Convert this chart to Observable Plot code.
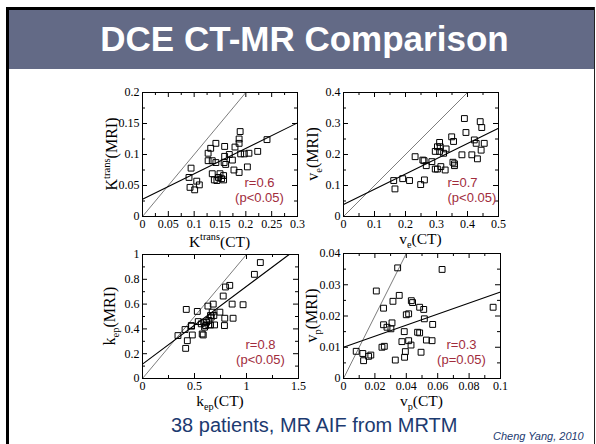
<!DOCTYPE html>
<html><head><meta charset="utf-8">
<script src="https://cdn.jsdelivr.net/npm/d3@7"></script>
<script src="https://cdn.jsdelivr.net/npm/@observablehq/plot@0.6"></script>
<style>
html,body{margin:0;padding:0;background:#fff;}
#slide{position:relative;width:596px;height:444px;overflow:hidden;background:#fff;font-family:"Liberation Sans",Arial,Helvetica,sans-serif;}
.abs{position:absolute;}
#topb{left:6px;top:7px;width:589px;height:3px;background:#000;}
#leftb{left:6px;top:7px;width:3px;height:440px;background:#000;}
#rightb{left:594px;top:7px;width:1px;height:440px;background:#222;}
#bar{left:9px;top:10px;width:585px;height:59px;background:#636a86;}
#title{left:9px;top:19px;width:591px;text-align:center;color:#fff;font-weight:bold;font-size:35px;line-height:40px;white-space:nowrap;}
#caption{left:171px;top:413px;color:#1c3a70;font-size:20px;line-height:24px;white-space:nowrap;}
#credit{left:493px;top:430px;color:#1c3a70;font-size:11px;font-style:italic;line-height:13px;white-space:nowrap;}
.panel{position:absolute;}
</style>
</head><body>
<div id="slide">
  <div class="abs" id="bar"></div>
  <div class="abs" id="topb"></div>
  <div class="abs" id="leftb"></div>
  <div class="abs" id="rightb"></div>
  <div class="abs" id="title">DCE CT-MR Comparison</div>
  <div class="abs" id="caption">38 patients, MR AIF from MRTM</div>
  <div class="abs" id="credit">Cheng Yang, 2010</div>
</div>
<script>
// ---------- data ----------
const ktransCT  = [0.094,0.090,0.092,0.101,0.105,0.110,0.127,0.127,0.132,0.135,0.142,0.142,0.135,0.139,0.144,0.147,0.150,0.153,0.157,0.157,0.159,0.159,0.158,0.161,0.168,0.174,0.177,0.179,0.187,0.189,0.187,0.187,0.190,0.197,0.206,0.203,0.223,0.241];
const ktransMRI = [0.078,0.063,0.047,0.043,0.057,0.051,0.102,0.090,0.110,0.090,0.118,0.087,0.069,0.059,0.058,0.063,0.069,0.061,0.066,0.059,0.113,0.097,0.087,0.084,0.100,0.091,0.075,0.112,0.125,0.137,0.118,0.071,0.101,0.101,0.102,0.080,0.105,0.124];
const veCT  = [0.162,0.166,0.191,0.213,0.231,0.249,0.261,0.256,0.260,0.267,0.285,0.296,0.296,0.303,0.303,0.310,0.312,0.310,0.314,0.323,0.328,0.331,0.349,0.355,0.353,0.358,0.358,0.382,0.390,0.395,0.414,0.422,0.428,0.432,0.441,0.446,0.444,0.454];
const veMRI = [0.116,0.089,0.122,0.116,0.193,0.103,0.118,0.182,0.180,0.164,0.177,0.210,0.153,0.153,0.225,0.239,0.225,0.210,0.161,0.204,0.150,0.218,0.257,0.242,0.175,0.170,0.164,0.199,0.316,0.271,0.199,0.247,0.236,0.186,0.306,0.287,0.214,0.236];
const kepCT  = [0.341,0.431,0.415,0.421,0.409,0.469,0.472,0.479,0.527,0.536,0.565,0.574,0.584,0.590,0.606,0.597,0.629,0.638,0.638,0.654,0.661,0.670,0.680,0.686,0.693,0.744,0.776,0.798,0.839,0.791,0.788,0.862,0.871,0.967,1.076,1.133,0.654,0.616];
const kepMRI = [0.346,0.305,0.243,0.557,0.395,0.427,0.422,0.351,0.541,0.459,0.441,0.359,0.351,0.454,0.427,0.414,0.584,0.468,0.432,0.432,0.495,0.535,0.600,0.508,0.432,0.535,0.665,0.738,0.751,0.486,0.427,0.600,0.486,0.595,0.840,0.935,0.508,0.454];
const vpCT  = [0.0081,0.0123,0.0128,0.0160,0.0174,0.0209,0.0245,0.0260,0.0255,0.0255,0.0277,0.0302,0.0309,0.0315,0.0330,0.0345,0.0355,0.0372,0.0387,0.0389,0.0394,0.0400,0.0415,0.0415,0.0430,0.0432,0.0440,0.0472,0.0485,0.0485,0.0494,0.0511,0.0515,0.0528,0.0564,0.0568,0.0628,0.0953];
const vpMRI = [0.0087,0.0080,0.0057,0.0071,0.0075,0.0280,0.0100,0.0103,0.0225,0.0172,0.0164,0.0159,0.0178,0.0247,0.0059,0.0354,0.0266,0.0118,0.0150,0.0068,0.0086,0.0204,0.0207,0.0121,0.0107,0.0249,0.0243,0.0148,0.0146,0.0228,0.0084,0.0221,0.0191,0.0123,0.0121,0.0173,0.0349,0.0228];

// fit lines and identity lines (endpoints)
const ktransFitX = [0, 0.3],  ktransFitY = [0.028, 0.151];
const veFitX     = [0, 0.5],  veFitY     = [0.039, 0.285];
const kepFitX    = [0, 1.41], kepFitY    = [0.116, 1.0];
const vpFitX     = [0, 0.1],  vpFitY     = [0.0100, 0.0277];
const ktransId = [0, 0.2], veId = [0, 0.4], kepId = [0, 1], vpId = [0, 0.04];

// ticks
const ktransXMajor = [0,0.05,0.1,0.15,0.2,0.25,0.3], ktransXMinor = [0.025,0.075,0.125,0.175,0.225,0.275];
const ktransYMajor = [0,0.05,0.1,0.15,0.2],          ktransYMinor = [0.025,0.075,0.125,0.175];
const veXMajor = [0,0.1,0.2,0.3,0.4,0.5],             veXMinor = [0.05,0.15,0.25,0.35,0.45];
const veYMajor = [0,0.1,0.2,0.3,0.4],                 veYMinor = [0.05,0.15,0.25,0.35];
const kepXMajor = [0,0.5,1,1.5],                      kepXMinor = [0.25,0.75,1.25];
const kepYMajor = [0,0.2,0.4,0.6,0.8,1],              kepYMinor = [0.1,0.3,0.5,0.7,0.9];
const vpXMajor = [0,0.02,0.04,0.06,0.08,0.1],         vpXMinor = [0.01,0.03,0.05,0.07,0.09];
const vpYMajor = [0,0.01,0.02,0.03,0.04],             vpYMinor = [0.005,0.015,0.025,0.035];

const rLabels = ["r=0.6","r=0.7","r=0.8","r=0.3"];
const pLabels = ["(p<0.05)","(p<0.05)","(p<0.05)","(p=0.05)"];

// ---------- layout ----------
const panels = [
  {xs: ktransCT, ys: ktransMRI, fx: ktransFitX, fy: ktransFitY, id: ktransId,
   xd: [0,0.3], yd: [0,0.2], xM: ktransXMajor, xm: ktransXMinor, yM: ktransYMajor, ym: ktransYMinor,
   L:142, R:297, T:92, B:216, sx:-38, sAnchor:"middle", xl:[["K",""],["trans","sup"],["(CT)",""]], yl:[["K",""],["trans","sup"],["(MRI)",""]],
   xlY: 31, ylX: 116.5},
  {xs: veCT, ys: veMRI, fx: veFitX, fy: veFitY, id: veId,
   xd: [0,0.5], yd: [0,0.4], xM: veXMajor, xm: veXMinor, yM: veYMajor, ym: veYMinor,
   L:343, R:498, T:92, B:216, sx:-51, sAnchor:"start", xl:[["v",""],["e","sub"],["(CT)",""]], yl:[["v",""],["e","sub"],["(MRI)",""]],
   xlY: 28, ylX: 318},
  {xs: kepCT, ys: kepMRI, fx: kepFitX, fy: kepFitY, id: kepId,
   xd: [0,1.5], yd: [0,1], xM: kepXMajor, xm: kepXMinor, yM: kepYMajor, ym: kepYMinor,
   L:142, R:298, T:254, B:378, sx:-38, sAnchor:"middle", xl:[["k",""],["ep","sub"],["(CT)",""]], yl:[["k",""],["ep","sub"],["(MRI)",""]],
   xlY: 28, ylX: 115},
  {xs: vpCT, ys: vpMRI, fx: vpFitX, fy: vpFitY, id: vpId,
   xd: [0,0.1], yd: [0,0.04], xM: vpXMajor, xm: vpXMinor, yM: vpYMajor, ym: vpYMinor,
   L:343, R:500, T:253, B:378, sx:-39, sAnchor:"middle", xl:[["v",""],["p","sub"],["(CT)",""]], yl:[["v",""],["p","sub"],["(MRI)",""]],
   xlY: 28, ylX: 316.5}
];

const fmt = d3.format("~g");
const mL = 52, mR = 12, mT = 10, mB = 42;

function richText(svg, x, y, rotate, parts, size) {
  const t = d3.select(svg).append("text")
    .attr("transform", `translate(${x},${y}) rotate(${rotate})`)
    .attr("text-anchor", "middle")
    .attr("font-family", "'Liberation Serif', 'Times New Roman', serif")
    .attr("font-size", size)
    .attr("fill", "black");
  let shift = 0;
  for (const [s, kind] of parts) {
    const target = kind === "sup" ? -7 : kind === "sub" ? 4 : 0;
    const ts = t.append("tspan").text(s).attr("dy", target - shift);
    if (kind) ts.attr("font-size", size * 0.66);
    shift = target;
  }
}

panels.forEach((p, i) => {
  const iw = p.R - p.L, ih = p.B - p.T;
  const pts = p.xs.map((x, j) => ({x, y: p.ys[j]}));
  const fit = p.fx.map((x, j) => ({x, y: p.fy[j]}));
  const idl = p.id.map(v => ({x: v, y: v}));
  const chart = Plot.plot({
    width: mL + iw + mR, height: mT + ih + mB,
    marginLeft: mL, marginRight: mR, marginTop: mT, marginBottom: mB,
    x: {domain: p.xd}, y: {domain: p.yd},
    style: {background: "transparent", fontFamily: "'Liberation Serif','Times New Roman',serif", fontSize: "12px", color: "black", overflow: "visible"},
    marks: [
      Plot.tickX(p.xm, {x: d => d, insetTop: ih - 3, stroke: "black"}),
      Plot.tickX(p.xM, {x: d => d, insetTop: ih - 5, stroke: "black"}),
      Plot.tickX(p.xm, {x: d => d, insetBottom: ih - 3, stroke: "black"}),
      Plot.tickX(p.xM, {x: d => d, insetBottom: ih - 5, stroke: "black"}),
      Plot.tickY(p.ym, {y: d => d, insetRight: iw - 3, stroke: "black"}),
      Plot.tickY(p.yM, {y: d => d, insetRight: iw - 5, stroke: "black"}),
      Plot.tickY(p.ym, {y: d => d, insetLeft: iw - 3, stroke: "black"}),
      Plot.tickY(p.yM, {y: d => d, insetLeft: iw - 5, stroke: "black"}),
      Plot.line(idl, {x: "x", y: "y", stroke: "#444", strokeWidth: 0.7}),
      Plot.line(fit, {x: "x", y: "y", stroke: "black", strokeWidth: 1.1}),
      Plot.dot(pts, {x: "x", y: "y", symbol: "square", r: 3.3, stroke: "black", strokeWidth: 1, fill: "none"}),
      Plot.frame({stroke: "black", strokeWidth: 1}),
      Plot.axisX({ticks: p.xM, tickSize: 0, tickPadding: 3, tickFormat: fmt, label: null, fontSize: 12}),
      Plot.axisY({ticks: p.yM, tickSize: 0, tickPadding: 3, tickFormat: fmt, label: null, fontSize: 12}),
      Plot.text([rLabels[i]], {text: d => d, frameAnchor: "bottom-right", dx: p.sx, dy: -34, textAnchor: p.sAnchor, lineAnchor: "middle", fill: "#a12c3c", fontFamily: "'Liberation Sans',Arial,sans-serif", fontSize: 13}),
      Plot.text([pLabels[i]], {text: d => d, frameAnchor: "bottom-right", dx: p.sx, dy: -19, textAnchor: p.sAnchor, lineAnchor: "middle", fill: "#a12c3c", fontFamily: "'Liberation Sans',Arial,sans-serif", fontSize: 13})
    ]
  });
  const ox = p.L - mL, oy = p.T - mT;
  chart.classList.add("panel");
  chart.style.left = ox + "px";
  chart.style.top = oy + "px";
  richText(chart, mL + iw / 2, mT + ih + p.xlY, 0, p.xl, 15.5);
  richText(chart, p.ylX - ox, mT + ih / 2, -90, p.yl, 16);
  document.getElementById("slide").appendChild(chart);
});
</script>
</body></html>
